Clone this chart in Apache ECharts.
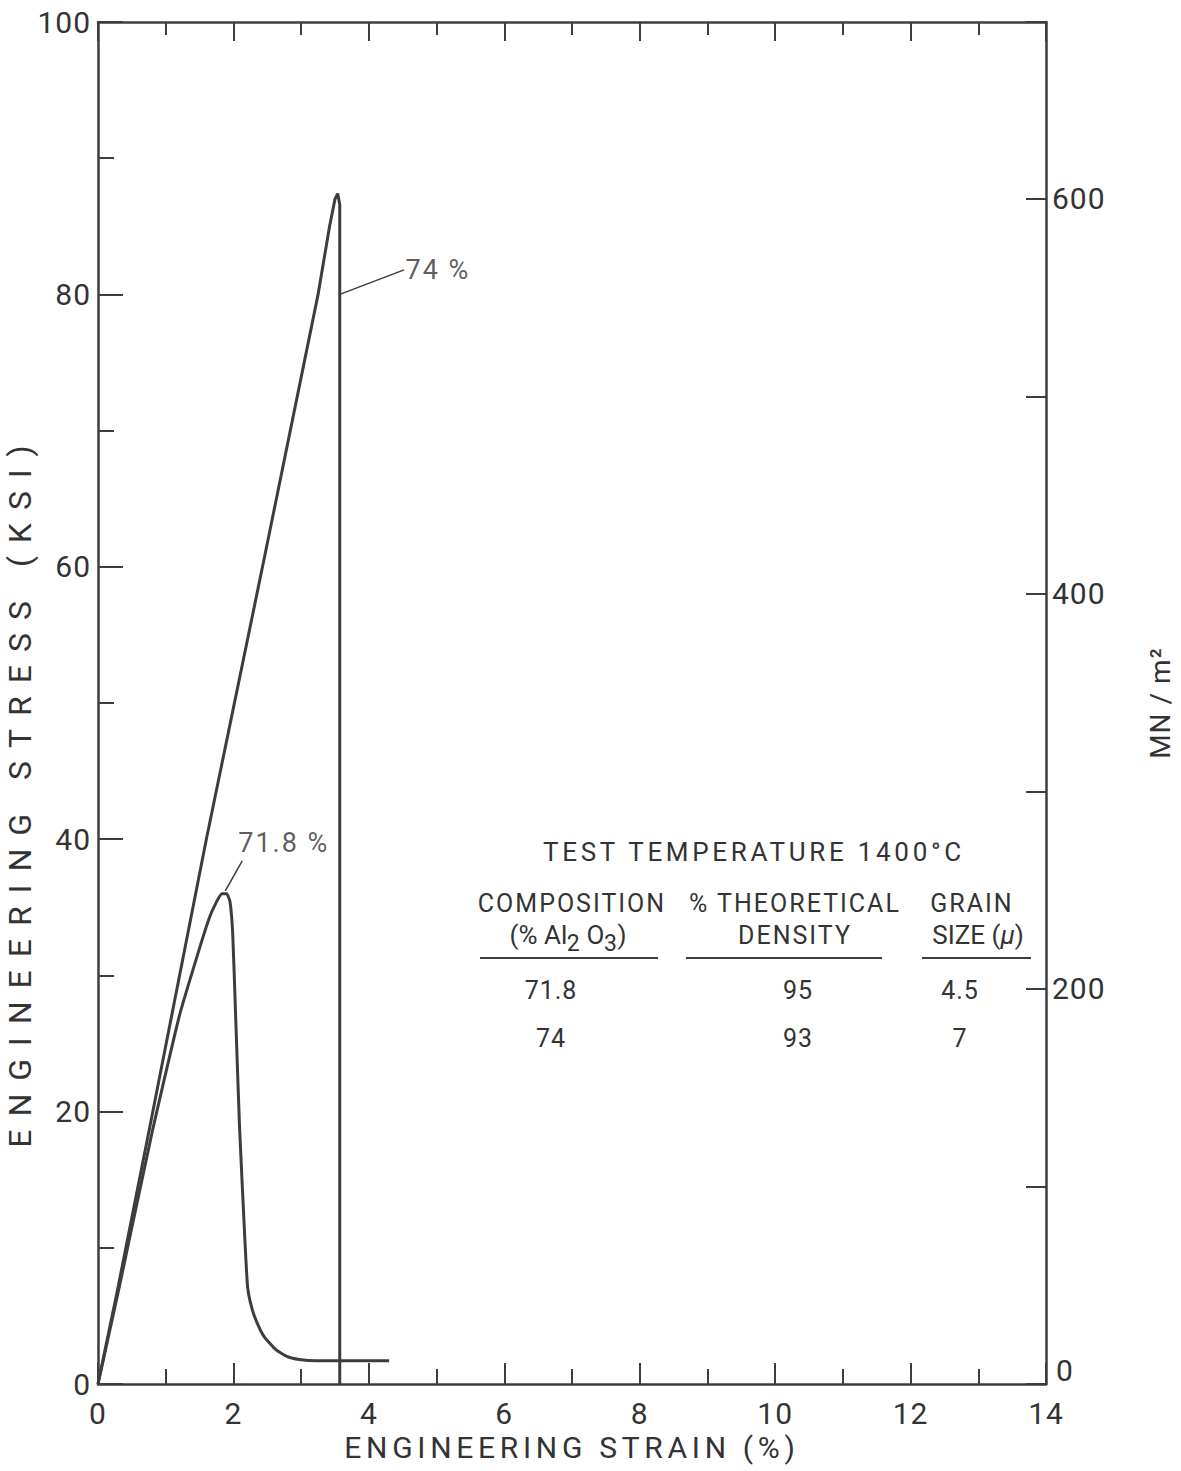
<!DOCTYPE html>
<html>
<head>
<meta charset="utf-8">
<script src="https://cdn.jsdelivr.net/npm/echarts@6/dist/echarts.min.js"></script>
<style>
  html, body { margin: 0; padding: 0; background: #fff; }
  #chart { width: 1181px; height: 1471px; }
</style>
</head>
<body>
<div id="chart"></div>
<script>
// Engineering stress-strain curves of two mullite-alumina bodies at 1400 °C

// 74 % Al2O3 body: near-linear loading, brittle fracture
const strain74 = [0, 0.3, 0.77, 1.6, 2.45, 3.25, 3.42, 3.5, 3.54, 3.57, 3.57];
const stress74 = [0, 7.2, 19, 40, 60.5, 80, 85, 87, 87.4, 86.6, 0];

// 71.8 % Al2O3 body: peak then gradual load drop to a low plateau
const strain718 = [0, 0.3, 0.8, 1.2, 1.5, 1.65, 1.75, 1.83, 1.9, 1.95, 1.99, 2.03, 2.09, 2.17, 2.21, 2.27, 2.34, 2.45, 2.63, 2.8, 2.97, 3.22, 4.3];
const stress718 = [0, 6.8, 18.5, 27, 32, 34.3, 35.4, 36, 36, 35.4, 33, 27.4, 18.9, 10.5, 7.1, 5.6, 4.6, 3.5, 2.5, 2.0, 1.8, 1.7, 1.7];

// curve call-outs: leader start, leader end, text
const leader74 = [[3.57, 80], [4.52, 81.8]];
const leader718 = [[1.88, 36.2], [2.13, 38.4]];
const label74 = '74 %';
const label718 = '71.8 %';

// axis ranges
const strainMax = 14;
const stressMax = 100;          // ksi
const KSI_TO_MN = 6.895;        // 1 ksi = 6.895 MN/m^2

// inset table
const tableTitle = 'TEST TEMPERATURE 1400°C';
const compositions = ['71.8', '74'];
const densities = ['95', '93'];
const grainSizes = ['4.5', '7'];

const zip = (xs, ys) => xs.map((x, i) => [x, ys[i]]);

const INK = '#333';
const LINE = '#3d3d3d';
const FONT = 'Roboto, "DejaVu Sans", sans-serif';

const chart = echarts.init(document.getElementById('chart'), null, { renderer: 'svg' });

const tickText = { fontFamily: FONT, fontSize: 30, color: INK };
const axisLine = { show: true, onZero: false, lineStyle: { color: LINE, width: 2.5 } };

const option = {
  animation: false,
  backgroundColor: '#fff',
  grid: { left: 98, right: 135, top: 22, bottom: 87, containLabel: false, outerBoundsMode: 'none' },
  xAxis: [
    {
      type: 'value', position: 'bottom', min: 0, max: strainMax, interval: 2,
      axisLine,
      axisTick: { show: true, inside: true, length: 21, lineStyle: { color: LINE, width: 2 } },
      minorTick: { show: true, splitNumber: 2, length: 15, lineStyle: { color: LINE, width: 2 } },
      splitLine: { show: false },
      axisLabel: { ...tickText, margin: 14 },
      name: 'ENGINEERING STRAIN (%)', nameLocation: 'middle', nameGap: 48,
      nameTextStyle: { fontFamily: FONT, fontSize: 30, color: INK }
    },
    {
      type: 'value', position: 'top', min: 0, max: strainMax, interval: 2,
      axisLine,
      axisTick: { show: true, inside: true, length: 19, lineStyle: { color: LINE, width: 2 } },
      minorTick: { show: true, splitNumber: 2, length: 13, lineStyle: { color: LINE, width: 2 } },
      splitLine: { show: false },
      axisLabel: { show: false }
    }
  ],
  yAxis: [
    {
      type: 'value', position: 'left', min: 0, max: stressMax, interval: 20,
      axisLine,
      axisTick: { show: true, inside: true, length: 25, lineStyle: { color: LINE, width: 2 } },
      minorTick: { show: true, splitNumber: 2, length: 16, lineStyle: { color: LINE, width: 2 } },
      splitLine: { show: false },
      axisLabel: { ...tickText, margin: 7 },
      name: 'ENGINEERING STRESS (KSI)', nameLocation: 'middle', nameGap: 62, nameRotate: 90,
      nameMoveOverlap: false,
      nameTextStyle: { fontFamily: FONT, fontSize: 32, color: INK, padding: [0, 174, 0, 0] }
    },
    {
      type: 'value', position: 'right', min: 0, max: stressMax * KSI_TO_MN, interval: 100,
      axisLine,
      axisTick: { show: true, inside: true, length: 20, lineStyle: { color: LINE, width: 2 } },
      splitLine: { show: false },
      axisLabel: {
        ...tickText, margin: 6,
        formatter: v => (v === 0 ? '{zero|0}' : (Math.abs(v % 200) < 1e-6 ? String(v) : '')),
        rich: { zero: { fontFamily: FONT, fontSize: 30, color: INK, padding: [0, 0, 28, 4] } }
      },
      name: 'MN / m²', nameLocation: 'middle', nameGap: 100, nameRotate: 90,
      nameTextStyle: { fontFamily: FONT, fontSize: 28, color: INK }
    }
  ],
  series: [
    {
      name: '74 %', type: 'line', silent: true, showSymbol: false, smooth: false,
      data: zip(strain74, stress74),
      lineStyle: { color: LINE, width: 3 }
    },
    {
      name: '71.8 %', type: 'line', silent: true, showSymbol: false, smooth: 0.15,
      data: zip(strain718, stress718),
      lineStyle: { color: LINE, width: 3 }
    },
    {
      name: 'leader 74', type: 'line', silent: true, showSymbol: false,
      data: leader74, lineStyle: { color: LINE, width: 1.5 }
    },
    {
      name: 'leader 71.8', type: 'line', silent: true, showSymbol: false,
      data: leader718, lineStyle: { color: LINE, width: 1.5 }
    },
    {
      name: 'call-outs', type: 'scatter', silent: true, symbolSize: 1,
      itemStyle: { color: 'rgba(0,0,0,0)' },
      data: [
        { value: leader74[1], label: { show: true, position: 'right', distance: 1, formatter: label74 } },
        { value: leader718[1], label: { show: true, position: 'top', align: 'left', distance: 4, offset: [-4, 0], formatter: label718 } }
      ],
      label: { fontFamily: FONT, fontSize: 27, color: INK }
    }
  ],
  graphic: []
};

// inset table drawn as text blocks and rules
const tStyle = (text, x, y, extra) => ({
  type: 'text', x, y, silent: true,
  style: Object.assign({ text, fontFamily: FONT, fontSize: 25, fill: INK, align: 'center', verticalAlign: 'middle' }, extra || {})
});
const rule = (x1, x2, y) => ({
  type: 'line', silent: true, shape: { x1, y1: y, x2, y2: y }, style: { stroke: LINE, lineWidth: 2 }
});
const rowY = [990, 1038];
option.graphic = [
  tStyle(tableTitle, 754, 852, { fontSize: 26 }),
  tStyle('COMPOSITION', 572, 903),
  tStyle('(% Al{sub|2} O{sub|3})', 568, 935, {
    fontSize: 26,
    rich: { sub: { fontFamily: FONT, fontSize: 23, fill: INK, padding: [16, 0, 0, 0] } }
  }),
  tStyle('% THEORETICAL', 795, 903),
  tStyle('DENSITY', 795, 935),
  tStyle('GRAIN', 972, 903),
  tStyle('SIZE ({it|μ})', 978, 935, {
    fontSize: 26,
    rich: { it: { fontFamily: FONT, fontSize: 26, fill: INK, fontStyle: 'italic' } }
  }),
  rule(480, 658, 958),
  rule(686, 882, 958),
  rule(922, 1031, 958)
];
compositions.forEach((v, i) => option.graphic.push(tStyle(v, 551, rowY[i])));
densities.forEach((v, i) => option.graphic.push(tStyle(v, 798, rowY[i])));
grainSizes.forEach((v, i) => option.graphic.push(tStyle(v, 960, rowY[i])));

chart.setOption(option);

// drafting-style letter spacing for single-run texts
const spacing = {
  'ENGINEERING STRESS (KSI)': '13px',
  'ENGINEERING STRAIN (%)': '4.7px',
  'MN / m²': '1px',
  'TEST TEMPERATURE 1400°C': '3.7px',
  'COMPOSITION': '2px',
  '% THEORETICAL': '2px',
  'DENSITY': '2px',
  'GRAIN': '2px',
  '74 %': '2px',
  '71.8 %': '2px'
};
function spaceLetters() {
  document.querySelectorAll('#chart svg text').forEach(t => {
    const s = (t.textContent || '').trim();
    if (spacing[s]) t.style.letterSpacing = spacing[s];
    else if (/^[0-9.]+$/.test(s)) t.style.letterSpacing = '1px';
  });
}
spaceLetters();
chart.on('finished', spaceLetters);
</script>
</body>
</html>
